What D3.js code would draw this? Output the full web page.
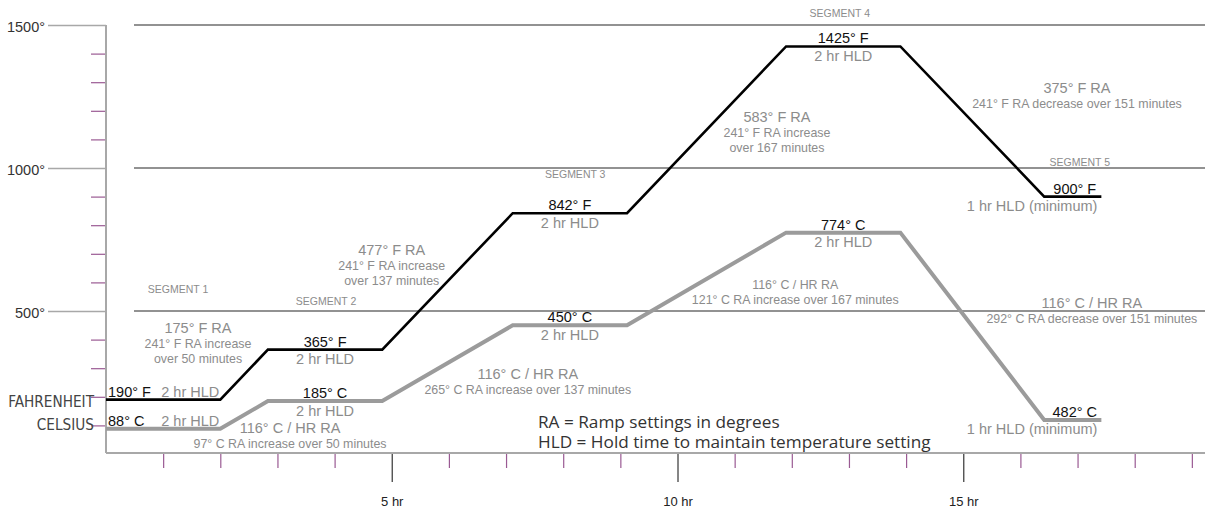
<!DOCTYPE html>
<html>
<head>
<meta charset="utf-8">
<script src="https://cdn.jsdelivr.net/npm/d3@7/dist/d3.min.js"></script>
<style>
  body { margin: 0; background: #fff; }
  svg { display: block; font-family: "Liberation Sans", Arial, sans-serif; }
  .note { fill: #8c8c8c; }
  .value { fill: #111; }
</style>
</head>
<body>
<svg id="chart" width="1205" height="508"></svg>
<script>
// schedule: hold temperature, hold length, then ramp to the next hold
const fahrenheit = [190, 365, 842, 1425, 900];
const celsius = [88, 185, 450, 774, 482];
// the last Celsius hold is drawn far lower than its label in the original
const celsiusDrawn = [88, 185, 450, 774, 119];
const holdHours = [2, 2, 2, 2, 1];
const rampMinutes = [50, 137, 167, 151];

const holdLabels = ["2 hr HLD", "2 hr HLD", "2 hr HLD", "2 hr HLD", "1 hr HLD (minimum)"];
const rampNotesF = [
    ["175° F RA", "241° F RA increase", "over 50 minutes"],
    ["477° F RA", "241° F RA increase", "over 137 minutes"],
    ["583° F RA", "241° F RA increase", "over 167 minutes"],
    ["375° F RA", "241° F RA decrease over 151 minutes"]
];
const rampNotesC = [
    ["116° C / HR RA", "97° C RA increase over 50 minutes"],
    ["116° C / HR RA", "265° C RA increase over 137 minutes"],
    ["116° C / HR RA", "121° C RA increase over 167 minutes"],
    ["116° C / HR RA", "292° C RA decrease over 151 minutes"]
];
const segmentNames = ["SEGMENT 1", "SEGMENT 2", "SEGMENT 3", "SEGMENT 4", "SEGMENT 5"];

const gridDegrees = [500, 1000, 1500];
const degreeMinor = [100, 200, 300, 400, 600, 700, 800, 900, 1100, 1200, 1300, 1400];
const hourMinor = [1, 2, 3, 4, 6, 7, 8, 9, 11, 12, 13, 14, 16, 17, 18, 19];
const hourMajor = [5, 10, 15];
const legendLines = ["RA = Ramp settings in degrees", "HLD = Hold time to maintain temperature setting"];

// where the annotations sit, in chart units [hours, degrees]
const rampNoteAtF = [[1.61, 423], [5.0, 696], [11.74, 1161], [16.99, 1262]];
const rampNoteAtC = [[3.22, 73], [7.38, 262], [12.06, 577], [17.25, 510]];
const segmentAt = [[1.26, 563], [3.85, 521], [8.21, 965], [12.84, 1528], [17.04, 1007]];

const svg = d3.select("#chart");
const x = d3.scaleLinear().domain([0, 19.23]).range([106, 1205]);
const y = d3.scaleLinear().domain([0, 1500]).range([454, 25]);

// turn holds and ramps into [hour, degree] corners
function profile(levels) {
    let pts = [], t = 0, spans = [];
    levels.forEach((v, i) => {
        pts.push([t, v]);
        let start = t;
        t += holdHours[i];
        pts.push([t, v]);
        spans.push([start, t]);
        if (i < rampMinutes.length) t += rampMinutes[i] / 60;
    });
    return { pts, spans };
}

// grid lines
svg.append("g")
    .selectAll("line")
    .data(gridDegrees)
    .enter().append("line")
    .attr("x1", 134).attr("x2", 1205)
    .attr("y1", d => y(d)).attr("y2", d => y(d))
    .attr("stroke", "#6e6e6e").attr("stroke-width", 1.5);

// y axis
let yMinor = svg.append("g").attr("transform", "translate(106,0)")
    .call(d3.axisLeft(y).tickValues(degreeMinor).tickSize(15).tickFormat(""));
yMinor.select(".domain").remove();
yMinor.selectAll("line").attr("stroke", "#9a5a93").attr("stroke-width", 1.2);

let yMajor = svg.append("g").attr("transform", "translate(106,0)")
    .call(d3.axisLeft(y).tickValues(gridDegrees).tickSize(58).tickPadding(3).tickFormat(d => d + "°"));
yMajor.select(".domain").remove();
yMajor.selectAll("line").attr("stroke", "#a8a8a8").attr("stroke-width", 1.5);
yMajor.selectAll("text").attr("font-size", 14.5).attr("fill", "#333")
    .attr("font-family", "Liberation Sans, Arial, sans-serif").attr("dy", "0.45em");

svg.append("line")
    .attr("x1", 106).attr("x2", 106).attr("y1", y(1500)).attr("y2", y(0) - 1)
    .attr("stroke", "#a8a8a8").attr("stroke-width", 2);

// x axis
let xMinor = svg.append("g").attr("transform", "translate(0,453)")
    .call(d3.axisBottom(x).tickValues(hourMinor).tickSize(15).tickFormat(""));
xMinor.select(".domain").remove();
xMinor.selectAll("line").attr("stroke", "#9a5a93").attr("stroke-width", 1.2);

let xMajor = svg.append("g").attr("transform", "translate(0,453)")
    .call(d3.axisBottom(x).tickValues(hourMajor).tickSize(29).tickPadding(15).tickFormat(d => d + " hr"));
xMajor.select(".domain").remove();
xMajor.selectAll("line").attr("stroke", "#444").attr("stroke-width", 1.3);
xMajor.selectAll("text").attr("font-size", 13).attr("fill", "#222")
    .attr("font-family", "Liberation Sans, Arial, sans-serif");

svg.append("line")
    .attr("x1", 106).attr("x2", 1205).attr("y1", 453).attr("y2", 453)
    .attr("stroke", "#a8a8a8").attr("stroke-width", 2);

// scale names beside the y axis
svg.append("text").attr("x", 94).attr("y", 407).attr("text-anchor", "end")
    .attr("font-family", "Liberation Sans Narrow, DejaVu Sans Condensed, sans-serif")
    .attr("font-size", 15.2).attr("fill", "#444").text("FAHRENHEIT");
svg.append("text").attr("x", 94).attr("y", 430).attr("text-anchor", "end")
    .attr("font-family", "Liberation Sans Narrow, DejaVu Sans Condensed, sans-serif")
    .attr("font-size", 15.2).attr("fill", "#444").text("CELSIUS");

// segment names
svg.append("g").selectAll("text")
    .data(segmentNames)
    .enter().append("text")
    .attr("class", "note")
    .attr("x", (d, i) => x(segmentAt[i][0]))
    .attr("y", (d, i) => y(segmentAt[i][1]))
    .attr("text-anchor", "middle").attr("font-size", 10.5)
    .text(d => d);

const line = d3.line().x(d => x(d[0])).y(d => y(d[1]));
const pf = profile(fahrenheit);
const pc = profile(celsiusDrawn);

svg.append("path").datum(pc.pts).attr("d", line)
    .attr("fill", "none").attr("stroke", "#9b9b9b").attr("stroke-width", 4);
svg.append("path").datum(pf.pts).attr("d", line)
    .attr("fill", "none").attr("stroke", "#000").attr("stroke-width", 2.6);

// hold labels: value above the flat stretch, hold time under it
// (first hold puts both on one line, last hold right-aligns the hold time)
function labelHolds(values, drawn, spans, unit) {
    let g = svg.append("g");
    drawn.forEach((v, i) => {
        let [a, b] = spans[i];
        let yy = y(v);
        let label = values[i] + "° " + unit;
        let first = i === 0, last = i === drawn.length - 1;
        g.append("text").attr("class", "value")
            .attr("x", first ? x(a) + 2 : x((a + b) / 2) + (last ? 2 : 0))
            .attr("y", yy - 3)
            .attr("text-anchor", first ? "start" : "middle")
            .attr("font-size", 14.5).text(label);
        g.append("text").attr("class", "note")
            .attr("x", first ? x(b) - 1 : last ? x(b) - 4 : x((a + b) / 2))
            .attr("y", first ? yy - 3 : yy + 14.5)
            .attr("text-anchor", first || last ? "end" : "middle")
            .attr("font-size", 14.5).text(holdLabels[i]);
    });
}
labelHolds(fahrenheit, fahrenheit, pf.spans, "F");
labelHolds(celsius, celsiusDrawn, pc.spans, "C");

// ramp notes
function rampText(notes, at, firstSize) {
    let g = svg.append("g");
    notes.forEach((lines, i) => {
        let t = g.append("text").attr("class", "note")
            .attr("x", x(at[i][0])).attr("y", y(at[i][1]))
            .attr("text-anchor", "middle");
        lines.forEach((s, j) => {
            t.append("tspan").attr("x", x(at[i][0])).attr("dy", j === 0 ? 0 : 14.8)
                .attr("font-size", j === 0 ? firstSize[i] : 12.4).text(s);
        });
    });
}
rampText(rampNotesF, rampNoteAtF, [14.5, 14.5, 14.5, 14.5]);
rampText(rampNotesC, rampNoteAtC, [14.5, 14.5, 12.4, 14.5]);

// legend
svg.append("g").selectAll("text")
    .data(legendLines)
    .enter().append("text")
    .attr("x", 538).attr("y", (d, i) => 428 + i * 19.5)
    .attr("font-family", "Open Sans, sans-serif").attr("font-size", 17.2)
    .attr("fill", "#333").text(d => d);
</script>
</body>
</html>
